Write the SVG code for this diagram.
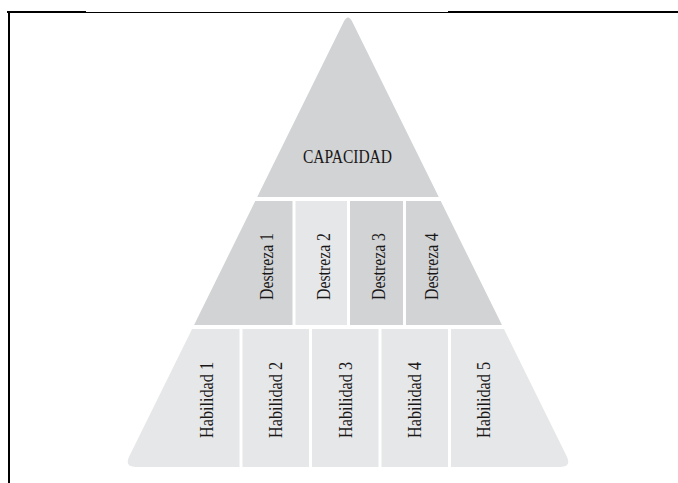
<svg xmlns="http://www.w3.org/2000/svg" width="678" height="483" viewBox="0 0 678 483">
<style>
.dark{fill:#d1d3d4}
.light{fill:#e6e7e8}
.lbl{font-family:"Liberation Serif","Times New Roman",serif;font-size:18px;fill:#1a1718;text-anchor:middle}
.frame{stroke:#000;fill:none}
</style>
<defs>
<clipPath id="tri">
<path d="M343.6,22 Q348,13 352.4,22 L566.7,456.2 Q572,467 560,467 L136,467 Q124,467 129.3,456.2 Z"/>
</clipPath>
</defs>
<rect width="678" height="483" fill="#fff"/>
<g id="frame">
<line class="frame" x1="7" y1="12" x2="86" y2="12" stroke-width="2"/>
<line class="frame" x1="86" y1="12.5" x2="448" y2="12.5" stroke-width="1"/>
<line class="frame" x1="448" y1="12" x2="678" y2="12" stroke-width="2"/>
<line class="frame" x1="9" y1="11" x2="9" y2="483" stroke-width="2"/>
</g>
<g id="capacidad">
<rect class="dark" x="0" y="0" width="678" height="197" clip-path="url(#tri)"/>
<text class="lbl" x="347.5" y="163" font-size="19" textLength="89" lengthAdjust="spacingAndGlyphs">CAPACIDAD</text>
</g>
<g id="destreza1">
<rect class="dark" x="0" y="201" width="292.5" height="124" clip-path="url(#tri)"/>
<text class="lbl" transform="translate(273,266.5) rotate(-90)" textLength="67" lengthAdjust="spacingAndGlyphs">Destreza 1</text>
</g>
<g id="destreza2">
<rect class="light" x="295.5" y="201" width="51.5" height="124" clip-path="url(#tri)"/>
<text class="lbl" transform="translate(330,266.5) rotate(-90)" textLength="67" lengthAdjust="spacingAndGlyphs">Destreza 2</text>
</g>
<g id="destreza3">
<rect class="dark" x="350" y="201" width="53" height="124" clip-path="url(#tri)"/>
<text class="lbl" transform="translate(385,266.5) rotate(-90)" textLength="67" lengthAdjust="spacingAndGlyphs">Destreza 3</text>
</g>
<g id="destreza4">
<rect class="dark" x="406" y="201" width="272" height="124" clip-path="url(#tri)"/>
<text class="lbl" transform="translate(438,266.5) rotate(-90)" textLength="67" lengthAdjust="spacingAndGlyphs">Destreza 4</text>
</g>
<g id="habilidad1">
<rect class="light" x="0" y="329" width="239.5" height="145" clip-path="url(#tri)"/>
<text class="lbl" transform="translate(213,400) rotate(-90)" textLength="76" lengthAdjust="spacingAndGlyphs">Habilidad 1</text>
</g>
<g id="habilidad2">
<rect class="light" x="242.5" y="329" width="66.5" height="145" clip-path="url(#tri)"/>
<text class="lbl" transform="translate(282,400) rotate(-90)" textLength="76" lengthAdjust="spacingAndGlyphs">Habilidad 2</text>
</g>
<g id="habilidad3">
<rect class="light" x="312" y="329" width="66.5" height="145" clip-path="url(#tri)"/>
<text class="lbl" transform="translate(352,400) rotate(-90)" textLength="76" lengthAdjust="spacingAndGlyphs">Habilidad 3</text>
</g>
<g id="habilidad4">
<rect class="light" x="381.5" y="329" width="66.5" height="145" clip-path="url(#tri)"/>
<text class="lbl" transform="translate(421,400) rotate(-90)" textLength="76" lengthAdjust="spacingAndGlyphs">Habilidad 4</text>
</g>
<g id="habilidad5">
<rect class="light" x="451" y="329" width="227" height="145" clip-path="url(#tri)"/>
<text class="lbl" transform="translate(490,400) rotate(-90)" textLength="76" lengthAdjust="spacingAndGlyphs">Habilidad 5</text>
</g>
<g id="connectors"/>
</svg>
